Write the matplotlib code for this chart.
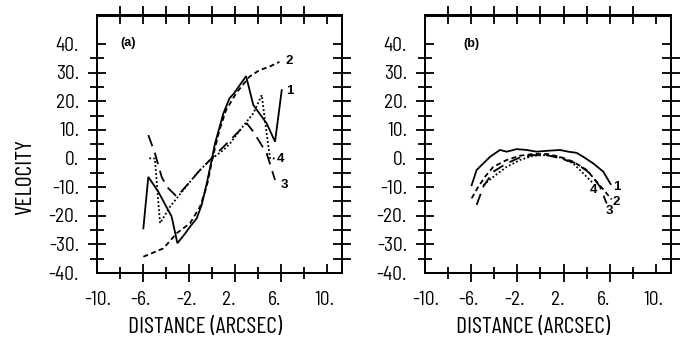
import matplotlib
matplotlib.use("Agg")
import matplotlib.pyplot as plt
from matplotlib import font_manager
from matplotlib.transforms import ScaledTranslation


def pick(name, fallback='DejaVu Sans'):
    try:
        font_manager.findfont(font_manager.FontProperties(family=name),
                              fallback_to_default=False)
        return name
    except Exception:
        return fallback


LABEL_FONT = pick('Barlow Condensed')
TICK_FONT = pick('Barlow Semi Condensed')
REG = pick('Liberation Sans')

# ---------------- data ----------------
# panel (a)
a1_x = [-5.97, -5.54, -4.67, -3.51, -3.01, -2.3, -1.91, -1.33, -0.90, -0.46, -0.03, 0.26,
        0.99, 1.51, 1.91, 2.96, 3.59, 4.75, 5.48, 6.06]
a1_v = [-24.4, -6.4, -11.6, -20.3, -29.6, -26.0, -23.8, -20.9, -16.2, -8.7, -0.5, 5.3,
        15.8, 21.0, 22.8, 28.8, 18.7, 12.3, 5.9, 23.9]
a2_x = [-5.97, -4.23, -3.07, -1.91, -1.04, -0.46, 0.07, 0.65, 1.22, 2.09, 3.25, 4.12, 4.99, 5.86]
a2_v = [-34.3, -31.4, -26.1, -22.6, -16.8, -9.8, 0.6, 10.0, 16.9, 22.8, 28.6, 30.9, 32.1, 33.8]
a3_x = [-5.54, -4.96, -4.38, -3.94, -3.07, -1.91, -1.04, -0.03, 0.99, 1.86, 3.02, 3.59, 4.75, 5.48]
a3_v = [8.2, 1.8, -6.4, -9.8, -13.3, -8.1, -4.0, 0.1, 4.1, 7.6, 12.3, 9.4, 1.8, -7.5]
a4_x = [-5.45, -4.97, -4.52, -3.65, -2.49, -1.33, -0.17, 0.99, 1.57, 2.44, 3.59, 4.32, 4.75,
        5.04, 5.48]
a4_v = [0.1, 0.0, -22.6, -16.8, -11.0, -5.2, -0.5, 3.0, 5.3, 10.0, 15.8, 22.2, 8.8, 0.1, 0.0]

# panel (b)
b1_x = [-5.96, -5.53, -4.95, -4.37, -3.51, -2.93, -2.06, -1.2, -0.33, 0.54, 1.69, 2.41, 3.13,
        3.71, 4.57, 5.44, 6.07]
b1_v = [-9.3, -4.0, -1.7, 0.6, 3.0, 2.4, 3.3, 3.0, 2.4, 2.7, 3.0, 2.4, 2.0, 0.6, -1.7, -4.6, -8.9]
b2_x = [-5.96, -5.47, -4.81, -4.09, -2.93, -1.77, -0.62, 0.54, 1.69, 2.84, 4.0, 4.87, 5.73, 6.16]
b2_v = [-13.9, -10.4, -6.4, -2.9, -0.5, 1.0, 1.6, 1.6, 0.6, -1.1, -4.0, -8.1, -12.2, -14.3]
b3_x = [-5.53, -4.95, -4.09, -2.93, -1.77, -0.62, 0.54, 1.69, 3.13, 4.29, 5.15, 5.73]
b3_v = [-16.2, -9.8, -4.6, -1.7, 0.4, 1.2, 1.2, 0.1, -1.7, -5.2, -9.8, -15.7]
b4_x = [-4.95, -4.09, -2.93, -1.77, -0.62, 0.54, 1.69, 2.84, 4.0, 4.57]
b4_v = [-9.3, -6.4, -2.9, -0.5, 1.0, 1.2, 0.4, -1.7, -6.4, -8.7]

curve_names = ['1', '2', '3', '4']
x_tick_values = [-10, -6, -2, 2, 6, 10]
x_tick_labels = ['-10.', '-6.', '-2.', '2.', '6.', '10.']
y_tick_values = [-40, -30, -20, -10, 0, 10, 20, 30, 40]
y_tick_labels = ['-40.', '-30.', '-20.', '-10.', '0.', '10.', '20.', '30.', '40.']

# ---------------- figure ----------------
plt.rcParams['lines.scale_dashes'] = False
fig = plt.figure(figsize=(6.88, 3.39), dpi=100)
axA = fig.add_axes([97 / 688, 1 - 273 / 339, 245 / 688, 257.5 / 339])
axB = fig.add_axes([425 / 688, 1 - 273 / 339, 246 / 688, 257.5 / 339])

LW_SP = 1.4
TW = 1.3
styles = ['-', (0, (3.6, 2.4)), (0, (8.5, 5.0)), (0, (1.3, 1.6))]


def style(ax, ylabel):
    ax.set_xlim(-10, 11.3)
    ax.set_ylim(-40, 50)
    for s in ax.spines.values():
        s.set_linewidth(LW_SP)
    ax.xaxis.set_ticks_position('bottom')
    ax.yaxis.set_ticks_position('left')
    # bottom ticks
    ax.set_xticks([-6, -2, 2, 6])
    ax.set_xticks([-8, -4, 0, 4, 8], minor=True)
    ax.tick_params(axis='x', which='major', direction='inout', length=13, width=TW,
                   labelbottom=False)
    ax.tick_params(axis='x', which='minor', direction='inout', length=8, width=TW)
    sb = ax.secondary_xaxis('bottom')
    sb.xaxis.set_ticks([10])
    sb.tick_params(direction='in', length=6.5, width=TW, labelbottom=False)
    sb.spines['bottom'].set_linewidth(LW_SP)
    # top ticks
    st = ax.secondary_xaxis('top')
    st.xaxis.set_ticks(list(range(-8, 9, 2)))
    st.xaxis.set_ticks([10], minor=True)
    st.tick_params(which='major', direction='inout', length=12.5, width=TW, labeltop=False)
    st.tick_params(which='minor', direction='in', length=6.5, width=TW, labeltop=False)
    st.spines['top'].set_linewidth(LW_SP)
    # left ticks
    ax.set_yticks([-30, -20, -10, 0, 10, 20, 30])
    ax.set_yticks([-35, -25, -15, -5, 5, 15, 25, 35], minor=True)
    ax.tick_params(axis='y', which='major', direction='inout', length=13.5, width=TW,
                   labelleft=False)
    ax.tick_params(axis='y', which='minor', direction='inout', length=9.5, width=TW)
    sl = ax.secondary_yaxis('left')
    sl.yaxis.set_ticks([40])
    sl.tick_params(direction='in', length=6.5, width=TW, labelleft=False)
    sl.spines['left'].set_linewidth(LW_SP)
    # right ticks
    sr = ax.secondary_yaxis('right')
    sr.yaxis.set_ticks(list(range(-35, 36, 5)))
    sr.yaxis.set_ticks([40], minor=True)
    sr.tick_params(which='major', direction='inout', length=13, width=TW, labelright=False)
    sr.tick_params(which='minor', direction='in', length=6.5, width=TW, labelright=False)
    sr.spines['right'].set_linewidth(LW_SP)

    # tick labels as text
    offx = ScaledTranslation(-0.13, -0.32, fig.dpi_scale_trans)
    for v, lab in zip(x_tick_values, x_tick_labels):
        ax.text(v, 0, lab, transform=ax.get_xaxis_transform() + offx, ha='left',
                va='baseline', fontsize=14, family=TICK_FONT, clip_on=False)
    offy = ScaledTranslation(-0.18, -0.065, fig.dpi_scale_trans)
    for v, lab in zip(y_tick_values, y_tick_labels):
        ax.text(0, v, lab, transform=ax.get_yaxis_transform() + offy, ha='right',
                va='baseline', fontsize=14, family=TICK_FONT, clip_on=False)

    ax.set_xlabel('DISTANCE (ARCSEC)', fontsize=17, family=LABEL_FONT, va='baseline')
    ax.xaxis.set_label_coords(0.441, -0.233)
    if ylabel:
        ax.set_ylabel(ylabel, fontsize=17, family=LABEL_FONT, va='center')
        ax.yaxis.set_label_coords(-0.29, 0.373)


def draw(ax, xs, vs, label_pos):
    for x, v, ls, name, (lx, ly) in zip(xs, vs, styles, curve_names, label_pos):
        ax.plot(x, v, color='black', lw=1.3, linestyle=ls, solid_joinstyle='miter')
        ax.text(lx, ly, name, fontsize=9.5, fontweight='bold', family=REG,
                ha='left', va='center')


style(axA, 'VELOCITY')
style(axB, None)

draw(axA, [a1_x, a2_x, a3_x, a4_x], [a1_v, a2_v, a3_v, a4_v],
     [(6.43, 23.7), (6.35, 34.1), (5.97, -9.3), (5.62, -0.1)])
draw(axB, [b1_x, b2_x, b3_x, b4_x], [b1_v, b2_v, b3_v, b4_v],
     [(6.31, -9.85), (6.25, -15.3), (5.67, -18.2), (4.23, -11.0)])

axA.text(0.094, 0.893, '(a)', transform=axA.transAxes, fontsize=9, fontweight='bold',
         family=REG, va='center', ha='left')
axB.text(0.154, 0.889, '(b)', transform=axB.transAxes, fontsize=9, fontweight='bold',
         family=REG, va='center', ha='left')

fig.savefig('out.png', dpi=100, facecolor='white')
